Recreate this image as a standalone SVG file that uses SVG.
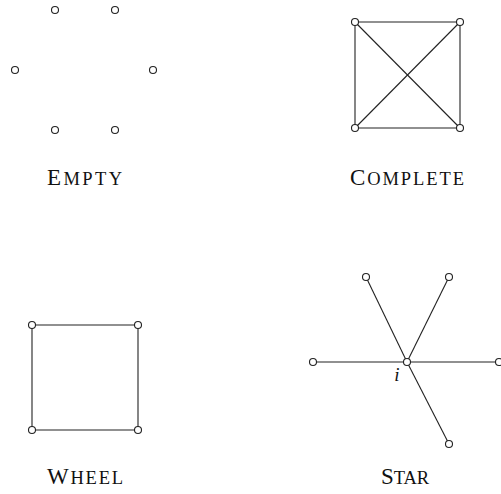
<svg xmlns="http://www.w3.org/2000/svg" width="501" height="494" viewBox="0 0 501 494">
<style>
.n{fill:#fff;stroke:#222;stroke-width:1.1}
.e{stroke:#222;stroke-width:1.1;fill:none}
.lbl{font-family:"Liberation Serif","DejaVu Serif",serif;font-size:23px;fill:#111}
.sc{font-size:18.5px}
.it{font-family:"Liberation Serif","DejaVu Serif",serif;font-size:19px;font-style:italic;fill:#111;text-anchor:middle}
</style>
<rect width="501" height="494" fill="#fff"/>
<g id="connectors">
<line class="e" x1="355" y1="22" x2="460" y2="22"/>
<line class="e" x1="355" y1="128" x2="460" y2="128"/>
<line class="e" x1="355" y1="22" x2="355" y2="128"/>
<line class="e" x1="460" y1="22" x2="460" y2="128"/>
<line class="e" x1="355" y1="22" x2="460" y2="128"/>
<line class="e" x1="460" y1="22" x2="355" y2="128"/>
<line class="e" x1="32" y1="325" x2="138" y2="325"/>
<line class="e" x1="32" y1="430" x2="138" y2="430"/>
<line class="e" x1="32" y1="325" x2="32" y2="430"/>
<line class="e" x1="138" y1="325" x2="138" y2="430"/>
<line class="e" x1="407" y1="362" x2="313" y2="362"/>
<line class="e" x1="407" y1="362" x2="499" y2="362"/>
<line class="e" x1="407" y1="362" x2="366" y2="277"/>
<line class="e" x1="407" y1="362" x2="449" y2="277"/>
<line class="e" x1="407" y1="362" x2="449" y2="444"/>
</g>
<g id="empty">
<g id="empty-1"><circle class="n" cx="55" cy="10" r="3.5"/></g>
<g id="empty-2"><circle class="n" cx="115" cy="10" r="3.5"/></g>
<g id="empty-3"><circle class="n" cx="15" cy="70" r="3.5"/></g>
<g id="empty-4"><circle class="n" cx="153" cy="70" r="3.5"/></g>
<g id="empty-5"><circle class="n" cx="55" cy="130" r="3.5"/></g>
<g id="empty-6"><circle class="n" cx="115" cy="130" r="3.5"/></g>
<text class="lbl" x="47" y="185" textLength="75" lengthAdjust="spacing">E<tspan class="sc">MPTY</tspan></text>
</g>
<g id="complete">
<g id="complete-1"><circle class="n" cx="355" cy="22" r="3.5"/></g>
<g id="complete-2"><circle class="n" cx="460" cy="22" r="3.5"/></g>
<g id="complete-3"><circle class="n" cx="355" cy="128" r="3.5"/></g>
<g id="complete-4"><circle class="n" cx="460" cy="128" r="3.5"/></g>
<text class="lbl" x="350" y="185" textLength="114" lengthAdjust="spacing">C<tspan class="sc">OMPLETE</tspan></text>
</g>
<g id="wheel">
<g id="wheel-1"><circle class="n" cx="32" cy="325" r="3.5"/></g>
<g id="wheel-2"><circle class="n" cx="138" cy="325" r="3.5"/></g>
<g id="wheel-3"><circle class="n" cx="32" cy="430" r="3.5"/></g>
<g id="wheel-4"><circle class="n" cx="138" cy="430" r="3.5"/></g>
<text class="lbl" x="47" y="484" textLength="76" lengthAdjust="spacing">W<tspan class="sc">HEEL</tspan></text>
</g>
<g id="star">
<g id="star-i"><circle class="n" cx="407" cy="362" r="3.5"/><text class="it" x="397" y="381">i</text></g>
<g id="star-left"><circle class="n" cx="313" cy="362" r="3.5"/></g>
<g id="star-right"><circle class="n" cx="499" cy="362" r="3.5"/></g>
<g id="star-tl"><circle class="n" cx="366" cy="277" r="3.5"/></g>
<g id="star-tr"><circle class="n" cx="449" cy="277" r="3.5"/></g>
<g id="star-b"><circle class="n" cx="449" cy="444" r="3.5"/></g>
<text class="lbl" x="381" y="484" textLength="48" lengthAdjust="spacing">S<tspan class="sc">TAR</tspan></text>
</g>
</svg>
